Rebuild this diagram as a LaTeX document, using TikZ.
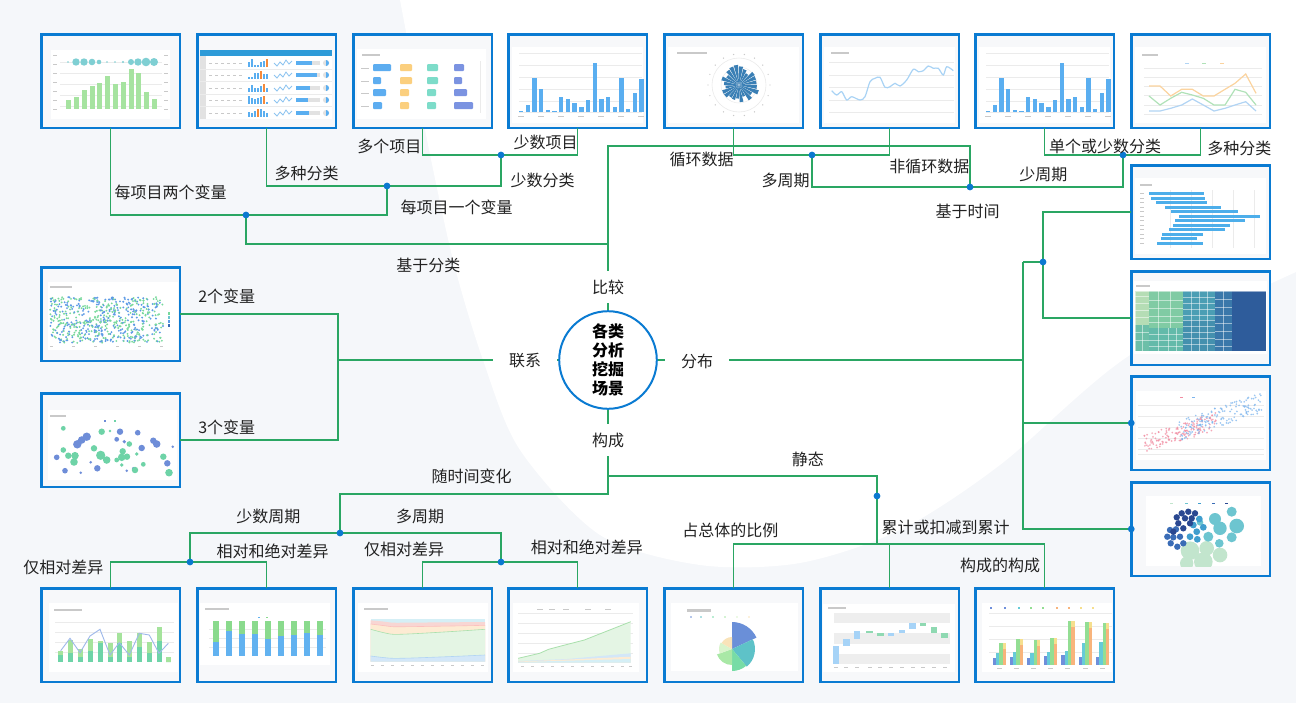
\documentclass[tikz,border=0pt]{standalone}
\usepackage{fontspec}
\newfontfamily\cjk{Noto Sans CJK SC}
\definecolor{bggrey}{HTML}{F5F7FA}
\definecolor{boxblue}{HTML}{0A7BD2}
\definecolor{lgreen}{HTML}{2AA663}
\definecolor{dotblue}{HTML}{0B78D0}
\definecolor{txtc}{HTML}{222222}
\definecolor{thumbbg}{HTML}{F7F8FA}
\definecolor{gridc}{HTML}{EBEBEB}
\definecolor{tgrey}{HTML}{C9C9C9}
\definecolor{barg}{HTML}{A6E3A0}
\definecolor{bubt}{HTML}{7FCFD3}
\definecolor{hdrblue}{HTML}{2E9BD8}
\definecolor{colgrey}{HTML}{E2E2E2}
\definecolor{barb}{HTML}{5AAEF0}
\definecolor{baro}{HTML}{F58A3A}
\definecolor{sparkc}{HTML}{8CC3F0}
\definecolor{cthb}{HTML}{5DADF0}
\definecolor{ctho}{HTML}{FBCF7E}
\definecolor{ctht}{HTML}{7DDCC9}
\definecolor{cthp}{HTML}{7B93E1}
\definecolor{polarc}{HTML}{3A7FB5}
\definecolor{linelb}{HTML}{A9D3F5}
\definecolor{leo}{HTML}{FBD39E}
\definecolor{leg}{HTML}{B0E2B8}
\definecolor{leb}{HTML}{B1D4F4}
\definecolor{hbar}{HTML}{4DAEEA}
\definecolor{tma}{HTML}{B5DDB5}
\definecolor{tmab}{HTML}{6DBFA8}
\definecolor{tmb}{HTML}{80CBA4}
\definecolor{tmbb}{HTML}{63BAAA}
\definecolor{tmc}{HTML}{4B9EB4}
\definecolor{tmcb}{HTML}{4490AE}
\definecolor{tmd}{HTML}{3A78AA}
\definecolor{tme}{HTML}{2E5C9B}
\definecolor{scpink}{HTML}{F28DA2}
\definecolor{scblue}{HTML}{7DB5EE}
\definecolor{bnavy}{HTML}{2A4891}
\definecolor{bblue}{HTML}{3A6CB6}
\definecolor{bmid}{HTML}{3F9ECE}
\definecolor{bteal}{HTML}{6DC5D0}
\definecolor{blgreen}{HTML}{C2E5CD}
\definecolor{scg}{HTML}{78D99C}
\definecolor{scb}{HTML}{5D9BE6}
\definecolor{ltg}{HTML}{6ED3A7}
\definecolor{ltb}{HTML}{6E8DD8}
\definecolor{bla}{HTML}{6ED4A8}
\definecolor{blb}{HTML}{A5E39C}
\definecolor{bll}{HTML}{9DB8EA}
\definecolor{btb}{HTML}{62B2F0}
\definecolor{btg}{HTML}{8ADA8D}
\definecolor{acy}{HTML}{D5EFF6}
\definecolor{api}{HTML}{F8D6D3}
\definecolor{aor}{HTML}{FDEBD3}
\definecolor{agr}{HTML}{E4F5E4}
\definecolor{abl}{HTML}{D3E7F8}
\definecolor{agl}{HTML}{A9E0AC}
\definecolor{pbl}{HTML}{6A8FD8}
\definecolor{pte}{HTML}{5EC2C8}
\definecolor{pgr}{HTML}{77DCA6}
\definecolor{plg}{HTML}{A9E8A6}
\definecolor{ppg}{HTML}{D9F4CC}
\definecolor{pcr}{HTML}{F9E3B9}
\definecolor{wband}{HTML}{EEEEEE}
\definecolor{wblue}{HTML}{A6D3F7}
\definecolor{wgreen}{HTML}{8FD9B2}
\definecolor{gba}{HTML}{6F8FDB}
\definecolor{gbb}{HTML}{66CBD8}
\definecolor{gbc}{HTML}{93DE93}
\definecolor{gbd}{HTML}{F8B47C}
\definecolor{gbe}{HTML}{F6DF8E}
\newcommand\bluebarchart{%
  \fill[white] (5,14) rectangle (136,90);
  \foreach \yy in {20,32,44,56,68,79} \draw[gridln] (12,\yy) -- (135,\yy);
  \foreach \tp [count=\i from 0] in {78,72,45,56,77,78.3,64,66,70,74,67,30,66,64,74,45,76,60,46}
    \fill[barb] (14+6.7*\i-2.2,\tp) rectangle (14+6.7*\i+2.2,79);
  \foreach \xx in {14,34,54,74,94,114,134} \fill[tgrey] (\xx-3,83) rectangle (\xx+3,84);
}
\begin{document}
\begin{tikzpicture}[x=0.5pt,y=-0.5pt,
  thumb/.style={draw=boxblue,line width=1.25pt,fill=thumbbg,minimum width=69.25pt,minimum height=46.75pt,inner sep=0pt,outer sep=0pt},
  conn/.style={draw=lgreen,line width=0.75pt},
  lbl/.style={font=\cjk\fontsize{8}{9.6}\selectfont,text=txtc,inner sep=0pt},
  clbl/.style={lbl,fill=white,inner xsep=8pt,inner ysep=4.5pt},
  gridln/.style={draw=gridc,line width=0.25pt},
  jdot/.style={fill=dotblue}]
\useasboundingbox (0,0) rectangle (1296,703);
% background
\fill[bggrey] (0,0) rectangle (1296,703);
\fill[white] plot[smooth] coordinates {(400,0) (425,130) (453,260) (483,360) (520,450) (600,535) (700,565) (800,563) (900,530) (1000,465) (1130,355) (1296,272)} -- (1296,0) -- cycle;

% ---------- thumbnails ----------
\node[thumb] (t1) at (110.5,81) {};
\node[thumb] (t2) at (266.5,81) {};
\node[thumb] (t3) at (422.5,81) {};
\node[thumb] (t4) at (577.5,81) {};
\node[thumb] (t5) at (733.5,81) {};
\node[thumb] (t6) at (889.5,81) {};
\node[thumb] (t7) at (1044.5,81) {};
\node[thumb] (t8) at (1200.5,81) {};
\node[thumb] (r1) at (1200.5,212) {};
\node[thumb] (r2) at (1200.5,318) {};
\node[thumb] (r3) at (1200.5,423) {};
\node[thumb] (r4) at (1200.5,529) {};
\node[thumb] (l1) at (110.5,314) {};
\node[thumb] (l2) at (110.5,440) {};
\node[thumb] (b1) at (110.5,635) {};
\node[thumb] (b2) at (266.5,635) {};
\node[thumb] (b3) at (422.5,635) {};
\node[thumb] (b4) at (577.5,635) {};
\node[thumb] (b5) at (733.5,635) {};
\node[thumb] (b6) at (889.5,635) {};
\node[thumb] (b7) at (1044.5,635) {};

% t1: bars with bubbles
\begin{scope}[shift={(40,33)}]
  \fill[white] (11,17) rectangle (130,86);
  \foreach \yy in {29,40,51,62,73} \draw[gridln] (20,\yy) -- (122,\yy);
  \foreach \xx/\tp in {28/67,36/64,44/57,52/53,59/50,67/43,75/51,83/49,91/36,98/40,106/59,114/66}
    \fill[barg] (\xx-2.5,\tp) rectangle (\xx+2.5,76);
  \foreach \xx/\rr in {28/0.9,36/3.7,44/3.7,52/3.3,59/2.3,67/0.8,75/0.8,83/1.1,91/3,98/3.7,106/4.3,114/4}
    \fill[bubt] (\xx,29) circle[radius=\rr];
  \foreach \yy in {22,31,40,49,58,67,76} {\fill[tgrey] (13,\yy) rectangle (17,\yy+0.8); \fill[tgrey] (124,\yy) rectangle (128,\yy+0.8);}
\end{scope}

% t2: table
\begin{scope}[shift={(196,33)}]
  \fill[white] (4,17) rectangle (136,86);
  \fill[hdrblue] (4,17) rectangle (136,23);
  \fill[colgrey] (4,23) rectangle (10,86);
  \foreach \yy in {36,48.5,61,73.5} \draw[gridln] (4,\yy) -- (136,\yy);
  \pgfmathsetseed{5}
  \foreach \yy/\ox/\pl in {30/70/116,42/64/121,55/67/114,67/67/112,80/61/113} {
    \foreach \xx in {13,19,25,31,37,43} \draw[tgrey,line width=0.35pt] (\xx,\yy) -- (\xx+3,\yy);
    \foreach \xx in {52,55,58,61,64,67,70} {
      \pgfmathsetmacro\hh{2+6*rnd}
      \fill[barb] (\xx,\yy+4) rectangle (\xx+2,\yy+4-\hh);
    }
    \fill[baro] (\ox,\yy+4) rectangle (\ox+2,\yy-4);
    \draw[sparkc,line width=0.4pt] (78,\yy) -- (81,\yy+3) -- (84,\yy-1) -- (87,\yy+2) -- (90,\yy-3) -- (93,\yy+1) -- (96,\yy-2);
    \fill[colgrey] (100,\yy-2.2) rectangle (124,\yy+2.2);
    \fill[barb] (100,\yy-2.2) rectangle (\pl,\yy+2.2);
    \fill[colgrey] (130,\yy) circle[radius=3];
    \fill[barb] (130,\yy) -- ++(-90:3) arc[start angle=-90,end angle=90,radius=3] -- cycle;
  }
\end{scope}

% t3: grid of blocks
\begin{scope}[shift={(352,33)}]
  \fill[white] (5,16) rectangle (134,86);
  \fill[tgrey] (10,21) rectangle (28,23);
  \foreach \yy in {35,48,60,73} \fill[tgrey] (9,\yy-0.4) rectangle (17,\yy+0.4);
  \draw[gridln] (128,28) -- (128,80);
  \foreach \xs/\ys/\w/\col in {21/31/18/cthb,48/31/12/ctho,75/31/11/ctht,102/31/10/cthp,
      21/44/8/cthb,48/44/12/ctho,75/44/11/ctht,102/44/8/cthp,
      21/56/13/cthb,48/56/9/ctho,75/56/9/ctht,102/56/13/cthp,
      21/69/9/cthb,48/69/9/ctho,75/69/9/ctht,102/69/19/cthp}
    \fill[\col,rounded corners=0.5pt] (\xs,\ys) rectangle (\xs+\w,\ys+7);
\end{scope}

% t4, t7: blue bars
\begin{scope}[shift={(507,33)}] \bluebarchart \end{scope}
\begin{scope}[shift={(974,33)}] \bluebarchart \end{scope}

% t5: polar bars
\begin{scope}[shift={(663,33)}]
  \fill[white] (5,14) rectangle (136,90);
  \fill[tgrey] (14,19) rectangle (44,21);
  \draw[gridc,line width=0.3pt] (76,52) circle[radius=27];
  \draw[gridc,line width=0.25pt] (76,52) circle[radius=18];
  \pgfmathsetseed{11}
  \foreach \i in {0,...,23} {
    \pgfmathsetmacro\aa{\i*15}
    \pgfmathsetmacro\rr{12+9*rnd}
    \fill[polarc] (76,52) -- ++(\aa:\rr) arc[start angle=\aa,end angle=\aa+12.5,radius=\rr] -- cycle;
  }
  \fill[white,opacity=0.6] (76,52) circle[radius=1.2];
  \foreach \i in {0,...,17} \fill[tgrey] (76,52) ++(\i*20:31) circle[radius=0.7];
\end{scope}

% t6: single line
\begin{scope}[shift={(819,33)}]
  \fill[white] (5,14) rectangle (136,90);
  \fill[tgrey] (12,19) rectangle (30,21);
  \foreach \yy in {29.3,42,54.3,67,79.3} \draw[gridln] (10,\yy) -- (135,\yy);
  \draw[linelb,line width=0.6pt] plot[smooth] coordinates {(12.7,57.7) (17.7,62) (22.7,58.7) (27.7,67) (32.7,63.7) (41,67) (46,63.7) (51,48.7) (56,45.3) (61,44.3) (66,54.3) (71,53.7) (76,50.3) (81,53) (87.7,47) (94.3,36.3) (99.3,38.7) (104.3,37.7) (109.3,33) (114.3,35.3) (119.3,35.3) (124.3,42) (127.7,33.7) (134.3,37.7)};
\end{scope}

% t8: three lines
\begin{scope}[shift={(1130,33)}]
  \fill[white] (5,14) rectangle (136,90);
  \fill[tgrey] (12,21) rectangle (28,23);
  \fill[leb] (55,30) rectangle (59,31); \fill[leg] (72,30) rectangle (76,31); \fill[leo] (90,30) rectangle (94,31);
  \foreach \yy in {35.3,44.3,53.7,62.7,72,81} \draw[gridln] (14,\yy) -- (132,\yy);
  \draw[leo,line width=0.6pt] (19,53) -- (30,53) -- (40.7,63) -- (51.7,56.3) -- (62.3,56.3) -- (73.3,63) -- (84,63) -- (95,56.3) -- (105,50.3) -- (115.7,41) -- (126,60.3);
  \draw[leg,line width=0.6pt] (19,63) -- (30,72) -- (40.7,65.3) -- (51.7,59.3) -- (62.3,62) -- (73.3,65.3) -- (84,72) -- (95,72) -- (105,56.3) -- (115.7,59.3) -- (126,72);
  \draw[leb,line width=0.6pt] (19,78) -- (30,78) -- (40.7,75.3) -- (51.7,72) -- (62.3,66) -- (73.3,72) -- (84,78) -- (95,75.3) -- (105,72) -- (115.7,68.7) -- (126,78);
\end{scope}

% r1: range bars
\begin{scope}[shift={(1130,164)}]
  \fill[white] (5,14) rectangle (136,90);
  \fill[tgrey] (10,20) rectangle (22,22);
  \foreach \xx in {40,61,82,103,124} \draw[gridln] (\xx,26) -- (\xx,84);
  \foreach \yy/\xa/\xb in {29.7/18.7/74,34/21.3/74.7,38.3/26.3/77,43/34.7/90.7,47.7/40.7/108,52/49/129.7,56.3/44.7/114.7,61/43/100.3,65.7/38.7/94.7,70/32.3/72.7,74.7/30.7/66.7,79/27/72.7} {
    \fill[hbar] (\xa,\yy-1.5) rectangle (\xb,\yy+1.5);
    \fill[tgrey] (10,\yy-0.4) rectangle (14,\yy+0.4);
  }
\end{scope}

% r2: treemap
\begin{scope}[shift={(1130,270)}]
  \fill[white] (4,11) rectangle (137,84);
  \fill[tgrey] (6,15) rectangle (20,17);
  \fill[tma] (5.3,21.3) rectangle (18.7,55);
  \fill[tmab] (5.3,55) rectangle (18.7,81.3);
  \fill[tmb] (18.7,21.3) rectangle (53,58);
  \fill[tmbb] (18.7,58) rectangle (53,81.3);
  \fill[tmc] (53,21.3) rectangle (85.3,50);
  \fill[tmcb] (53,50) rectangle (85.3,81.3);
  \fill[tmd] (85.3,21.3) rectangle (102,81.3);
  \fill[tme] (102,21.3) rectangle (136.3,81.3);
  \begin{scope}[draw=white,line width=0.3pt,draw opacity=0.5]
    \foreach \yy in {26,33,40,47,62,70} \draw (5.3,\yy) -- (18.7,\yy);
    \draw (12,55) -- (12,81.3);
    \draw (28,21.3) -- (28,58); \draw (40,21.3) -- (40,58);
    \foreach \yy in {30,38,46,52} \draw (18.7,\yy) -- (53,\yy);
    \foreach \xx in {28,38,46} \draw (\xx,58) -- (\xx,81.3);
    \foreach \yy in {64,70,76} \draw (18.7,\yy) -- (53,\yy);
    \foreach \xx in {61,69,77} \draw (\xx,21.3) -- (\xx,81.3);
    \foreach \yy in {27,33,39,45,50,56,62,68,74} \draw (53,\yy) -- (85.3,\yy);
    \draw (93.5,21.3) -- (93.5,81.3);
    \foreach \yy in {29,37,45,53,61,69,76} \draw (85.3,\yy) -- (102,\yy);
    \draw (5.3,21.3) rectangle (136.3,81.3);
  \end{scope}
\end{scope}

% r3: scatter pink/blue
\begin{scope}[shift={(1130,375)}]
  \fill[white] (6,16) rectangle (136,85);
  \fill[scpink] (50,22) rectangle (53,23); \fill[scblue] (62,22) rectangle (65,23);
  \foreach \yy in {30,41,52,63,74} \draw[gridln] (8,\yy) -- (134,\yy);
  \draw[gridc,line width=0.5pt] (8,79) -- (134,79);
  \pgfmathsetseed{21}
  \foreach \i in {1,...,160} {
    \pgfmathsetmacro\px{14+72*rnd}
    \pgfmathsetmacro\py{77-0.3*(\px-14)-18*rnd}
    \fill[scpink,opacity=0.75] (\px,\py) circle[radius=0.95];
  }
  \foreach \i in {1,...,160} {
    \pgfmathsetmacro\px{48+84*rnd}
    \pgfmathsetmacro\py{66-0.34*(\px-48)-20*rnd}
    \fill[scblue,opacity=0.75] (\px,\py) circle[radius=0.95];
  }
\end{scope}

% r4: bubble cluster
\begin{scope}[shift={(1130,481)}]
  \fill[white] (16,15) rectangle (131,85);
  \foreach \xx/\cc in {40/blgreen,55/bteal,68/bmid,82/bblue,95/bnavy} \fill[\cc] (\xx,22) rectangle (\xx+3,23.2);
  \begin{scope}
    \clip (16,15) rectangle (131,85);
    \foreach \xx/\yy/\rr in {60/69.7/9.3,76.7/67.3/7.3,90/74/7.3,73.3/80.7/9.3,56.7/82.3/6.7}
      \fill[blgreen] (\xx,\yy) circle[radius=\rr];
    \foreach \xx/\yy/\rr in {85/38/6,101.7/30.7/5,106.7/45/7.3,90/47.3/6.7,78.3/55.7/5,101.7/56.3/5,89.3/62.3/4.3,70/41.3/3.3}
      \fill[bteal] (\xx,\yy) circle[radius=\rr];
    \foreach \xx/\yy in {69.3/38,63.3/44,66.7/50.7,60/55.7,73.3/46.3,67.3/58.3}
      \fill[bmid] (\xx,\yy) circle[radius=3.4];
    \foreach \xx/\yy in {40/49,46/48.3,37.3/55.7,43.3/56.3,50/55.7,40.7/62.3,47.3/65.7,53.3/62.3}
      \fill[bblue] (\xx,\yy) circle[radius=3.2];
    \foreach \xx/\yy in {46.7/36.3,51.7/32.3,58.3/30.7,65/32.3,55/37.3,61.7/37.3,60/42.3,48.3/42.3,53.3/47.3,43.3/50.7}
      \fill[bnavy] (\xx,\yy) circle[radius=3.2];
  \end{scope}
\end{scope}

% l1: dense scatter
\begin{scope}[shift={(40,266)}]
  \fill[white] (8,16) rectangle (138,84);
  \fill[tgrey] (10,20) rectangle (32,22);
  \pgfmathsetseed{3}
  \foreach \i in {1,...,620} {
    \pgfmathsetmacro\px{10+113*rnd}
    \pgfmathsetmacro\py{31+46*rnd}
    \pgfmathtruncatemacro\pc{(rnd<0.5)*100}
    \fill[scb!\pc!scg] (\px,\py) circle[radius=1.05];
  }
  \foreach \yy/\cc in {46/scg,50/bteal,54/scb,58/bblue} \fill[\cc] (128,\yy) rectangle (130,\yy+3);
  \foreach \xx in {10,32,54,76,98,120} \fill[tgrey] (\xx,80) rectangle (\xx+3,81);
\end{scope}

% l2: bubble scatter
\begin{scope}[shift={(40,392)}]
  \fill[white] (8,18) rectangle (137,88);
  \fill[tgrey] (10,23) rectangle (26,25);
  \fill[ltb] (64,28) rectangle (66,29.5); \fill[ltg] (74,28) rectangle (76,29.5);
  \foreach \xx/\yy/\rr in {46.7/44.7/3,37.3/52.3/3,41.7/48/2.7,80/39.7/2.3,76.7/47.3/1.7,84.3/49.7/1.3,97.7/40.7/2,113.3/48.7/2.3,116.7/52/2.7,101.7/56/2.3,132.7/54.7/1,127.3/71.3/2.3,16.7/65.3/2,25/78.7/2,57.3/76.3/2.3,40.7/80.7/1,86.7/78.7/1,93.3/76.3/1,50.7/70.3/1}
    \fill[ltb] (\xx,\yy) circle[radius=1.4*\rr];
  \foreach \xx/\yy/\rr in {23.3/36.3/1.7,23.3/58/2,28.3/63.7/2.3,35/63.7/2.7,34/70/2.7,54/56.3/2.3,60.7/63.3/3.3,66.7/68/2.7,61.7/39.7/2.3,70/39/1,76.7/68/1.7,82.7/59.3/2.3,81.7/65.3/2.7,87/64.7/2.3,89.3/52/2,96.7/62/1.3,95/78/2.3,103.3/72.3/1.7,123.3/64.7/2.3,129/80.7/2.7,81.7/73/1.3}
    \fill[ltg] (\xx,\yy) circle[radius=1.4*\rr];
\end{scope}

% b1: stacked bars + line
\begin{scope}[shift={(40,587)}]
  \fill[white] (9,16) rectangle (138,85);
  \fill[tgrey] (14,22) rectangle (42,24);
  \foreach \yy in {35,45,55,65} \draw[gridln] (15,\yy) -- (134,\yy);
  \foreach \xa/\lo/\up in {20.7/68/63.7,30/65.7/53,40/69.7/62.3,50/63.7/52,60/56.3/54,70/69.7/56.3,79.3/56.3/45.7,89.3/69.7/53.7,99.3/59.7/45.7,109.3/65.7/54.7,119/53.7/40.3,128.3/74.7/69.7} {
    \fill[blb] (\xa-2.5,\up) rectangle (\xa+2.5,74.7);
    \fill[bla] (\xa-2.5,\lo) rectangle (\xa+2.5,74.7);
  }
  \draw[bll,line width=0.45pt] (20.7,63.7) -- (30,51.3) -- (40,65.7) -- (50,49) -- (60,42.3) -- (70,68) -- (79.3,55.7) -- (89.3,68) -- (99.3,46.3) -- (109.3,48) -- (119,66.3) -- (128.3,56.3);
\end{scope}

% b2: 100% stacked bars
\begin{scope}[shift={(196,587)}]
  \fill[white] (4,16) rectangle (134,78);
  \fill[tgrey] (9,21) rectangle (33,23);
  \fill[btb] (62,30) rectangle (64,31); \fill[btg] (70,30) rectangle (72,31);
  \foreach \yy in {42,51,60} \draw[gridln] (13,\yy) -- (130,\yy);
  \foreach \xa/\bt in {20/54.7,32.7/43.7,45.7/47.3,58.7/47.3,71.7/51.7,84.7/48.7,97.7/48.3,110.7/46.3,123.7/48.3} {
    \fill[btg] (\xa-3,33.7) rectangle (\xa+3,\bt);
    \fill[btb] (\xa-3,\bt) rectangle (\xa+3,69);
  }
\end{scope}

% b3: 100% stacked area
\begin{scope}[shift={(352,587)}]
  \fill[white] (6,16) rectangle (136,85);
  \fill[tgrey] (12,21) rectangle (36,23);
  \fill[acy] (18.7,32) rectangle (133,74.7);
  \fill[api] (18.7,74.7) -- plot[smooth] coordinates {(18.7,33.3) (31,34.5) (41.3,35.7) (60,35.6) (100,35.3) (133,35)} -- (133,74.7) -- cycle;
  \fill[aor] (18.7,74.7) -- plot[smooth] coordinates {(18.7,37) (31,38.5) (41.3,39.7) (60,39.6) (100,39) (133,38.3)} -- (133,74.7) -- cycle;
  \draw[api!70!red!60,line width=0.3pt] plot[smooth] coordinates {(18.7,37) (31,38.5) (41.3,39.7) (60,39.6) (100,39) (133,38.3)};
  \fill[agr] (18.7,74.7) -- plot[smooth] coordinates {(18.7,42.3) (31,45.5) (41.3,47.3) (60,46.8) (100,44.5) (133,42.3)} -- (133,74.7) -- cycle;
  \draw[agl,line width=0.3pt] plot[smooth] coordinates {(18.7,42.3) (31,45.5) (41.3,47.3) (60,46.8) (100,44.5) (133,42.3)};
  \fill[abl] (18.7,74.7) -- plot[smooth] coordinates {(18.7,69) (31,70.5) (41.3,71.3) (60,71) (100,69.5) (133,68)} -- (133,74.7) -- cycle;
  \draw[leb,line width=0.3pt] plot[smooth] coordinates {(18.7,69) (31,70.5) (41.3,71.3) (60,71) (100,69.5) (133,68)};
  \foreach \xx in {20,30,40,50,60,70,80,90,100,110,120,130} \fill[tgrey] (\xx-1.5,78) rectangle (\xx+1.5,79);
\end{scope}

% b4: growing stacked area
\begin{scope}[shift={(507,587)}]
  \fill[white] (5.5,16) rectangle (132,85);
  \foreach \xx in {30,42,56,78,98} \fill[tgrey] (\xx,22) rectangle (\xx+6,23);
  \foreach \yy in {26,36,46,56,66} \draw[gridln] (11,\yy) -- (126,\yy);
  \fill[agr] (11.2,75.7) -- (11.2,71.3) -- (32.6,66.3) -- (41.6,62.3) -- (54,59) -- (77.3,53) -- (123.7,34.7) -- (123.7,75.7) -- cycle;
  \draw[agl,line width=0.4pt] (11.2,71.3) -- (32.6,66.3) -- (41.6,62.3) -- (54,59) -- (77.3,53) -- (123.7,34.7);
  \fill[abl] (11.2,75.7) -- (11.2,74) -- (60,72) -- (123.7,66.3) -- (123.7,75.7) -- cycle;
  \fill[aor] (11.2,75.7) -- (11.2,74.5) -- (60,72.6) -- (123.7,69.7) -- (123.7,75.7) -- cycle;
  \fill[acy] (11.2,75.7) -- (11.2,75) -- (123.7,72) -- (123.7,75.7) -- cycle;
  \foreach \xx in {15,25,35,45,55,65,75,85,95,105,115,123} \fill[tgrey] (\xx-1.5,79) rectangle (\xx+1.5,80);
\end{scope}

% b5: nightingale pie
\begin{scope}[shift={(663,587)}]
  \fill[white] (8,16) rectangle (134.7,84);
  \fill[tgrey] (24,22) rectangle (48,24.5);
  \foreach \xx/\cc in {28/pbl,38/pte,50/pgr,62/plg,74/ppg,86/pcr} \fill[\cc] (\xx,30) circle[radius=0.9];
  \fill[pbl] (69,62) -- ++(-90:27) arc[start angle=-90,end angle=-25,radius=27] -- cycle;
  \fill[pte] (69,62) -- ++(-25:23) arc[start angle=-25,end angle=50,radius=23] -- cycle;
  \fill[pgr] (69,62) -- ++(50:22) arc[start angle=50,end angle=90,radius=22] -- cycle;
  \fill[plg] (69,62) -- ++(90:16) arc[start angle=90,end angle=160,radius=16] -- cycle;
  \fill[ppg] (69,62) -- ++(160:13) arc[start angle=160,end angle=210,radius=13] -- cycle;
  \fill[pcr] (69,62) -- ++(210:12) arc[start angle=210,end angle=270,radius=12] -- cycle;
\end{scope}

% b6: waterfall
\begin{scope}[shift={(819,587)}]
  \fill[white] (3.5,17) rectangle (136,85);
  \fill[tgrey] (9,20) rectangle (27,22);
  \foreach \ya/\yb in {26.3/36.3,46.3/57.3,67.3/77.3} \fill[wband] (15,\ya) rectangle (131,\yb);
  \foreach \xx/\ya/\yb/\cc in {16.7/59/77/wblue,27.4/52.3/59/wblue,38.1/44/52/wblue,50.6/44/46.3/wgreen,61.4/46.3/49/wgreen,72/46.3/49/wblue,82.8/43/46.3/wblue,93.5/36.3/42.3/wblue,104.2/36.3/38.7/wgreen,115/39.7/46.3/wgreen,125.6/46.3/51/wgreen}
    \fill[\cc] (\xx-3.2,\ya) rectangle (\xx+3.2,\yb);
  \foreach \xx in {16.7,27.4,38.1,50.6,61.4,72,82.8,93.5,104.2,115,125.6} \fill[tgrey] (\xx-2,80) rectangle (\xx+2,81);
\end{scope}

% b7: grouped bars
\begin{scope}[shift={(974,587)}]
  \fill[white] (8,16) rectangle (138,85);
  \foreach \xx/\cc in {16/gba,30/gba,44/gbb,56/gbc,68/gbc,82/gbd,94/gbd,106/gbe,118/gbe} \fill[\cc] (\xx,20) rectangle (\xx+2,21.5);
  \foreach \yy in {26,39,52,65} \draw[gridln] (15,\yy) -- (138,\yy);
  \foreach \gx/\ta/\tb/\tc in {18.7/70.7/66.3/55.7,35.7/69.7/64.7/52,53/70.7/66.3/53.3,69.7/69/65.3/51.3,87.3/68/64/34,104.7/69.7/55.7/34.7,122/69.7/54.7/35.7} {
    \fill[gba] (\gx,\ta) rectangle (\gx+3.3,78);
    \fill[gbb] (\gx+3.3,\tb) rectangle (\gx+6.6,78);
    \fill[gbc] (\gx+6.6,\tc) rectangle (\gx+9.9,78);
    \fill[gbd] (\gx+9.9,\tc+6) rectangle (\gx+13.2,78);
    \fill[gbe] (\gx+9.9,\tc) rectangle (\gx+13.2,\tc+6);
    \fill[tgrey] (\gx+4,81) rectangle (\gx+9,82);
  }
\end{scope}

% ---------- center ----------
\node[circle,draw=boxblue,line width=1pt,fill=white,minimum size=48.8pt,inner sep=0pt,align=center,
      font=\cjk\bfseries\fontsize{8}{9.5}\selectfont,text=black] (ctr) at (608,360) {各类\\分析\\挖掘\\场景};

% ---------- junctions ----------
\coordinate (tk) at (608,146);
\coordinate (tl) at (608,244);
\coordinate (c2) at (246,215);
\coordinate (c3) at (387,186);
\coordinate (c4) at (501,155);
\coordinate (d1) at (970,187);
\coordinate (d2) at (812,155);
\coordinate (d3) at (1123,155);
\coordinate (lj) at (338,360);
\coordinate (rj) at (1023,360);
\coordinate (e1) at (1043,262);
\coordinate (bj) at (608,494);
\coordinate (sj) at (608,476);
\coordinate (f1) at (340,533);
\coordinate (f2) at (190,562);
\coordinate (f3) at (501,562);
\coordinate (g1) at (877,496);
\coordinate (g2) at (877,544);

% ---------- connectors ----------
\draw[conn] (ctr.north) -- (tk) -- (tk -| d1) -- (d1);
\draw[conn] (tl) -- (tl -| c2) -- (c2);
\draw[conn] (t1.south) -- (t1.south |- c2) -- (c3 |- c2) -- (c3);
\draw[conn] (t2.south) -- (t2.south |- c3) -- (c4 |- c3) -- (c4);
\draw[conn] (t3.south) -- (t3.south |- c4) -- (t4.south |- c4) -- (t4.south);
\draw[conn] (d2) -- (d2 |- d1) -- (d3 |- d1) -- (d3);
\draw[conn] (t5.south) -- (t5.south |- d2) -- (t6.south |- d2) -- (t6.south);
\draw[conn] (t7.south) -- (t7.south |- d3) -- (t8.south |- d3) -- (t8.south);
\draw[conn] (ctr.west) -- (lj);
\draw[conn] (l1.east) -- (l1.east -| lj) -- (l2.east -| lj) -- (l2.east);
\draw[conn] (ctr.east) -- (rj);
\draw[conn] (e1 -| rj) -- (r4.west -| rj) -- (r4.west);
\draw[conn] (e1 -| rj) -- (e1);
\draw[conn] (r1.west) -- (r1.west -| e1) -- (r2.west -| e1) -- (r2.west);
\draw[conn] (r3.west -| rj) -- (r3.west);
\draw[conn] (ctr.south) -- (bj) -- (bj -| f1) -- (f1);
\draw[conn] (sj) -- (sj -| g1) -- (g1) -- (g2);
\draw[conn] (b5.north) -- (b5.north |- g2) -- (b7.north |- g2) -- (b7.north);
\draw[conn] (g2 -| b6.north) -- (b6.north);
\draw[conn] (f2) -- (f2 |- f1) -- (f3 |- f1) -- (f3);
\draw[conn] (b1.north) -- (b1.north |- f2) -- (b2.north |- f2) -- (b2.north);
\draw[conn] (b3.north) -- (b3.north |- f3) -- (b4.north |- f3) -- (b4.north);

% dots
\foreach \p in {c2,c3,c4,d1,d2,d3,e1,r3.west,r4.west,f1,f2,f3,g1}
  \fill[jdot] (\p) circle[radius=3.4];

% ---------- labels ----------
\node[clbl] (lbA) at (608,287) {比较};
\node[clbl] (lbB) at (525,361) {联系};
\node[clbl] (lbC) at (697,361) {分布};
\node[clbl] (lbD) at (608,440) {构成};

\node[lbl] (n1) at (170.7,192.7) {每项目两个变量};
\node[lbl] (n2) at (306.7,173.3) {多种分类};
\node[lbl] (n3) at (389.3,146.7) {多个项目};
\node[lbl] (n4) at (456.7,207.3) {每项目一个变量};
\node[lbl] (n5) at (545.7,142.7) {少数项目};
\node[lbl] (n6) at (542.7,180) {少数分类};
\node[lbl] (n7) at (428.3,265) {基于分类};
\node[lbl] (n8) at (701.7,159.3) {循环数据};
\node[lbl] (n9) at (785.7,180) {多周期};
\node[lbl] (n10) at (929.3,166.7) {非循环数据};
\node[lbl] (n11) at (967.7,211.7) {基于时间};
\node[lbl] (n12) at (1105,146.7) {单个或少数分类};
\node[lbl] (n13) at (1239.3,148.3) {多种分类};
\node[lbl] (n14) at (1043.3,174) {少周期};
\node[lbl] (n15) at (226.7,296.7) {2个变量};
\node[lbl] (n16) at (226.7,427.3) {3个变量};
\node[lbl] (n17) at (471.7,476.7) {随时间变化};
\node[lbl] (n18) at (268.3,516) {少数周期};
\node[lbl] (n19) at (420,516) {多周期};
\node[lbl] (n20) at (63.3,567.3) {仅相对差异};
\node[lbl] (n21) at (272.7,551.7) {相对和绝对差异};
\node[lbl] (n22) at (404,549.3) {仅相对差异};
\node[lbl] (n23) at (586.8,547.3) {相对和绝对差异};
\node[lbl] (n24) at (730.4,530.7) {占总体的比例};
\node[lbl] (n25) at (807.9,459) {静态};
\node[lbl] (n26) at (945.7,527.3) {累计或扣减到累计};
\node[lbl] (n27) at (1000,565) {构成的构成};
\end{tikzpicture}
\end{document}
